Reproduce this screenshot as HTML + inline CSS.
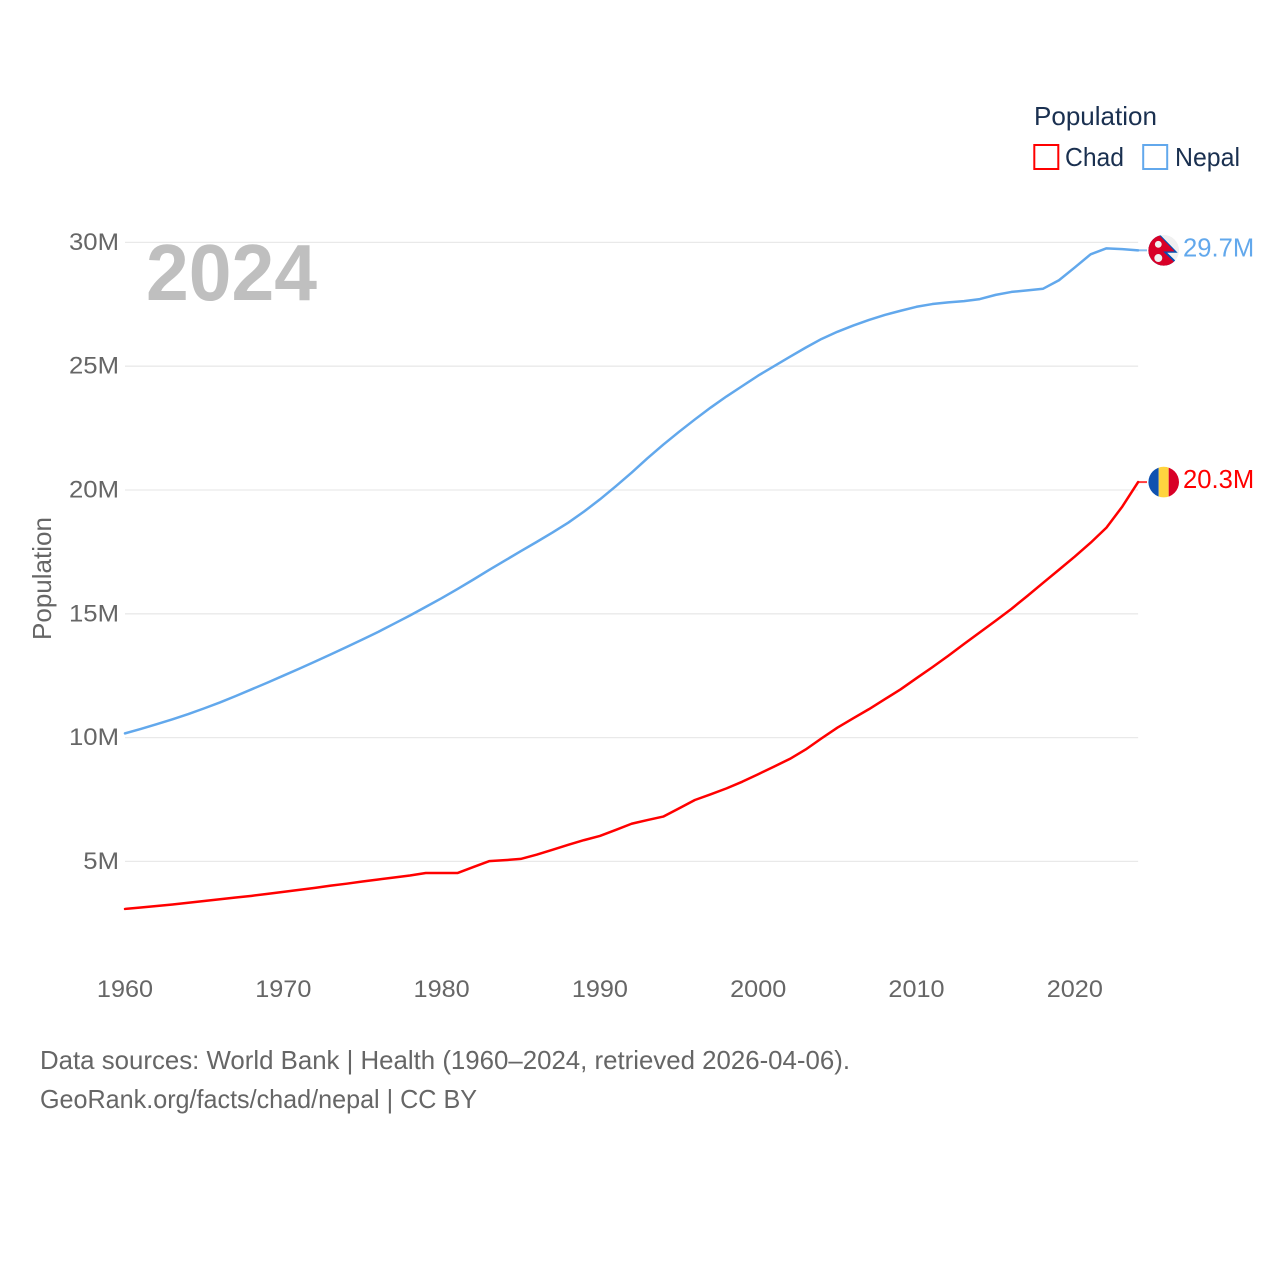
<!DOCTYPE html>
<html lang="en">
<head>
<meta charset="utf-8">
<title>Population: Chad and Nepal</title>
<style>
html,body{margin:0;padding:0;background:#fff}
svg{display:block}
text{font-family:"Liberation Sans",Arial,sans-serif}
</style>
</head>
<body>
<svg id="chart" xmlns="http://www.w3.org/2000/svg" width="1280" height="1280" viewBox="0 0 1280 1280">
  <defs>
    <clipPath id="flag-clip"><circle cx="0" cy="0" r="15.3"/></clipPath>
  </defs>
  <rect x="0" y="0" width="1280" height="1280" fill="#ffffff"/>
  <g id="grid"></g>
  <g id="y-ticks"></g>
  <g id="x-ticks"></g>
  <text x="146" y="300" font-size="80" font-weight="700" fill="#bfbfbf" textLength="171" lengthAdjust="spacingAndGlyphs">2024</text>
  <text transform="translate(51 640) rotate(-90)" font-size="26" fill="#666666" textLength="123" lengthAdjust="spacingAndGlyphs">Population</text>
  <g id="series"></g>

  <g id="flag-chad">
    <g clip-path="url(#flag-clip)">
      <rect x="-16" y="-16" width="11" height="32" fill="#0f52b0"/>
      <rect x="-5" y="-16" width="10" height="32" fill="#ffd43f"/>
      <rect x="5" y="-16" width="11" height="32" fill="#d80027"/>
    </g>
  </g>
  <g id="flag-nepal">
    <g clip-path="url(#flag-clip)">
      <rect x="-16" y="-16" width="32" height="32" fill="#f0f0f0"/>
      <polygon points="-16,-16 -4,-16 14,2.4 3.5,2.4 14,12.5 14,16 -16,16" fill="#0052b4"/>
      <polygon points="-16,-16 -5.5,-16 11,1 -0.5,1.2 1.3,3 12,13 12,16 -16,16" fill="#d80027"/>
      <circle cx="-5.4" cy="-6" r="3.4" fill="#f0f0f0"/>
      <circle cx="-5.4" cy="7.7" r="4" fill="#f0f0f0"/>
    </g>
  </g>
  <g id="end-labels"></g>

  <g>
    <text x="1034" y="125" font-size="26" fill="#1a3050" textLength="123" lengthAdjust="spacingAndGlyphs">Population</text>
    <g>
      <rect x="1034.3" y="145" width="24" height="24" fill="#ffffff" stroke="#ff0000" stroke-width="2"/>
      <text x="1065" y="166" font-size="26" fill="#1a3050" textLength="59" lengthAdjust="spacingAndGlyphs">Chad</text>
    </g>
    <g>
      <rect x="1143.2" y="145" width="24" height="24" fill="#ffffff" stroke="#62a8ec" stroke-width="2"/>
      <text x="1175" y="166" font-size="26" fill="#1a3050" textLength="65" lengthAdjust="spacingAndGlyphs">Nepal</text>
    </g>
  </g>

  <text x="40" y="1069" font-size="26" fill="#666666" textLength="810" lengthAdjust="spacingAndGlyphs">Data sources: World Bank | Health (1960–2024, retrieved 2026-04-06).</text>
  <text x="40" y="1108" font-size="26" fill="#666666" textLength="437" lengthAdjust="spacingAndGlyphs">GeoRank.org/facts/chad/nepal | CC BY</text>
</svg>
<script>
const years = [1960,1961,1962,1963,1964,1965,1966,1967,1968,1969,1970,1971,1972,1973,1974,1975,1976,1977,1978,1979,1980,1981,1982,1983,1984,1985,1986,1987,1988,1989,1990,1991,1992,1993,1994,1995,1996,1997,1998,1999,2000,2001,2002,2003,2004,2005,2006,2007,2008,2009,2010,2011,2012,2013,2014,2015,2016,2017,2018,2019,2020,2021,2022,2023,2024];
const chadValues = [3.08,3.14,3.2,3.26,3.33,3.4,3.47,3.54,3.61,3.69,3.77,3.85,3.93,4.02,4.1,4.19,4.27,4.35,4.43,4.53,4.53,4.53,4.77,5.01,5.05,5.1,5.27,5.47,5.67,5.86,6.03,6.27,6.52,6.67,6.81,7.14,7.48,7.71,7.95,8.22,8.52,8.83,9.14,9.52,9.97,10.4,10.78,11.15,11.55,11.95,12.4,12.84,13.3,13.78,14.25,14.72,15.2,15.72,16.25,16.78,17.31,17.87,18.48,19.33,20.32];
const nepalValues = [10.17,10.35,10.54,10.74,10.95,11.18,11.42,11.68,11.95,12.22,12.5,12.78,13.07,13.36,13.66,13.96,14.27,14.6,14.93,15.28,15.63,16.0,16.38,16.77,17.15,17.53,17.9,18.28,18.68,19.13,19.62,20.15,20.7,21.28,21.83,22.35,22.85,23.33,23.78,24.2,24.62,25.0,25.38,25.75,26.1,26.39,26.64,26.87,27.07,27.24,27.4,27.51,27.58,27.63,27.71,27.88,28.0,28.06,28.13,28.47,28.99,29.52,29.76,29.73,29.68];
const yTickValues = [5,10,15,20,25,30];
const yTickLabels = ["5M","10M","15M","20M","25M","30M"];
const xTickValues = [1960,1970,1980,1990,2000,2010,2020];
const xTickLabels = ["1960","1970","1980","1990","2000","2010","2020"];

const NS = 'http://www.w3.org/2000/svg';
function xScale(year){ return 125 + (year - 1960) * 15.83; }
function yScale(v){ return 861.4 - (v - 5) * 24.76; }
function make(tag, attrs, parent, content){
  const el = document.createElementNS(NS, tag);
  for (const k in attrs) el.setAttribute(k, attrs[k]);
  if (content !== undefined) el.textContent = content;
  parent.appendChild(el);
  return el;
}
function stretch(el, factor){
  const w = el.getComputedTextLength();
  el.setAttribute('textLength', (w * factor).toFixed(1));
  el.setAttribute('lengthAdjust', 'spacingAndGlyphs');
}

const gridG = document.getElementById('grid');
const yG = document.getElementById('y-ticks');
const xG = document.getElementById('x-ticks');
const seriesG = document.getElementById('series');
const endG = document.getElementById('end-labels');

yTickValues.forEach(function(v, i){
  const line = make('line', {x1:125, x2:xScale(2024), y1:yScale(v), y2:yScale(v), stroke:'#e9e9e9', 'stroke-width':1.3}, gridG);
  
  
  const t = make('text', {x:119, y:yScale(v) + 7.5, 'text-anchor':'end', 'font-size':24, fill:'#666666'}, yG, yTickLabels[i]);
  
  
  stretch(t, 1.07);
});

xTickValues.forEach(function(v, i){
  const t = make('text', {x:xScale(v), y:997, 'text-anchor':'middle', 'font-size':24, fill:'#666666'}, xG, xTickLabels[i]);
  
  
  stretch(t, 1.05);
});

function drawSeries(values, color, key, flagId){
  const d = values.map(function(v, i){
    return (i ? 'L' : 'M') + xScale(years[i]).toFixed(2) + ' ' + yScale(v).toFixed(2);
  }).join(' ');
  const path = make('path', {d:d, fill:'none', stroke:color, 'stroke-width':2.5, 'stroke-linejoin':'round', 'stroke-linecap':'round'}, seriesG);
  
  

  const last = values[values.length - 1];
  const lx = xScale(years[years.length - 1]);
  const ly = yScale(last);
  const conn = make('line', {x1:lx, x2:1147, y1:ly, y2:ly, stroke:color, 'stroke-width':2, opacity:0.75}, seriesG);
  
  

  document.getElementById(flagId).setAttribute('transform', 'translate(1163.7 ' + ly.toFixed(2) + ')');

  const label = make('text', {x:1183, y:ly + 6, 'font-size':26, fill:color}, endG, last.toFixed(1) + 'M');
  
  
  stretch(label, 0.985);
}

drawSeries(chadValues, '#ff0000', 'chad', 'flag-chad');
drawSeries(nepalValues, '#62a8ec', 'nepal', 'flag-nepal');
</script>
</body>
</html>
